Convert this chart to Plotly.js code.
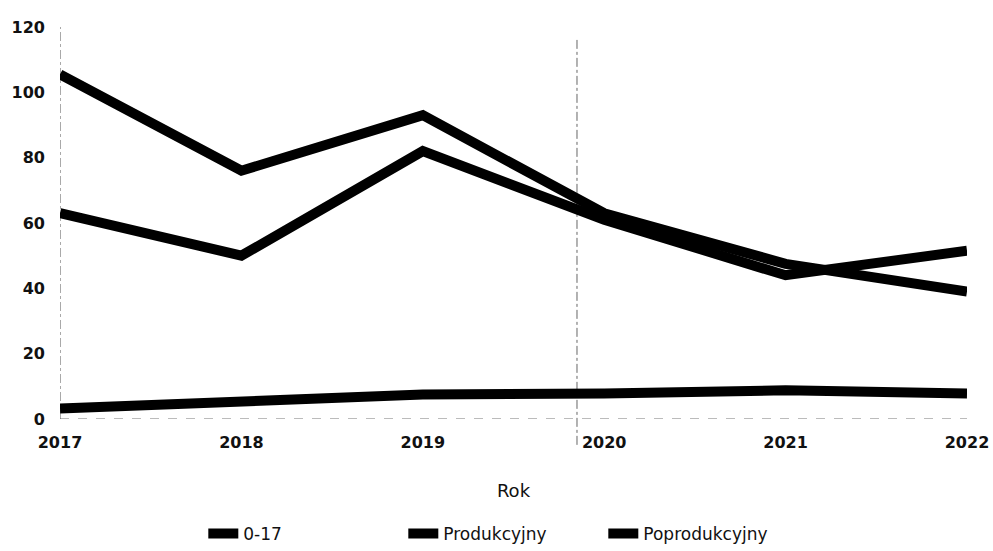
<!DOCTYPE html>
<html>
<head>
<meta charset="utf-8">
<script src="https://cdn.plot.ly/plotly-3.0.1.min.js"></script>
<style>
  html, body { margin: 0; padding: 0; background: #fff; }
  #chart { width: 993px; height: 551px; }
</style>
</head>
<body>
<div id="chart"></div>
<script>
// ---- data ----
const years = [2017, 2018, 2019, 2020, 2021, 2022];
const seriesNames = ['0-17', 'Produkcyjny', 'Poprodukcyjny'];
const values017 = [3.2, 5.5, 7.5, 7.8, 8.8, 7.8];
const valuesProdukcyjny = [63, 50, 82, 61, 44, 51.5];
const valuesPoprodukcyjny = [105.5, 76, 93, 63, 47.5, 39];
const yTicks = [0, 20, 40, 60, 80, 100, 120];
const xTitle = 'Rok';
const markerYear = 2019.85;

const allValues = [values017, valuesProdukcyjny, valuesPoprodukcyjny];

const traces = allValues.map((vals, i) => ({
  type: 'scatter',
  mode: 'lines',
  x: years,
  y: vals,
  name: seriesNames[i],
  line: { color: '#000000', width: 10 },
  hoverinfo: 'x+y+name'
}));

const layout = {
  width: 993,
  height: 551,
  margin: { l: 60, r: 26, t: 27, b: 132, autoexpand: false },
  paper_bgcolor: '#ffffff',
  plot_bgcolor: '#ffffff',
  font: { family: 'DejaVu Sans, sans-serif', color: '#111111' },
  showlegend: true,
  legend: {
    orientation: 'h',
    x: 0.158, xanchor: 'left',
    y: -0.293, yanchor: 'middle',
    entrywidth: 155, entrywidthmode: 'pixels',
    font: { family: 'DejaVu Sans, sans-serif', size: 17, color: '#111111' },
    bgcolor: 'rgba(0,0,0,0)'
  },
  xaxis: {
    range: [2017, 2022],
    tickmode: 'array',
    tickvals: years,
    ticktext: years.map(String),
    showgrid: false,
    zeroline: false,
    showline: false,
    ticks: '',
    ticklabelstandoff: 12,
    tickfont: { family: 'DejaVu Sans, sans-serif', size: 16, weight: 'bold', color: '#111111' },
    title: { text: xTitle, font: { family: 'DejaVu Sans, sans-serif', size: 18, color: '#111111' }, standoff: 33 },
    fixedrange: true
  },
  yaxis: {
    range: [0, 120],
    tickmode: 'array',
    tickvals: yTicks,
    ticktext: yTicks.map(String),
    showgrid: false,
    zeroline: false,
    showline: false,
    ticks: '',
    ticklabelstandoff: 14,
    tickfont: { family: 'DejaVu Sans, sans-serif', size: 16, weight: 'bold', color: '#111111' },
    fixedrange: true
  },
  shapes: [
    { type: 'line', xref: 'x', yref: 'y', x0: 2017, x1: 2022, y0: 0, y1: 0,
      line: { color: '#777777', width: 1, dash: 'dash' }, layer: 'below' },
    { type: 'line', xref: 'x', yref: 'y', x0: 2017, x1: 2017, y0: 0, y1: 120,
      line: { color: '#555555', width: 1, dash: 'dashdot' }, layer: 'below' },
    { type: 'line', xref: 'x', yref: 'paper', x0: markerYear, x1: markerYear, y0: -0.066, y1: 0.967,
      line: { color: '#666666', width: 1, dash: 'dashdot' }, layer: 'below' }
  ]
};

Plotly.newPlot('chart', traces, layout, { displayModeBar: false, staticPlot: true });
</script>
</body>
</html>
